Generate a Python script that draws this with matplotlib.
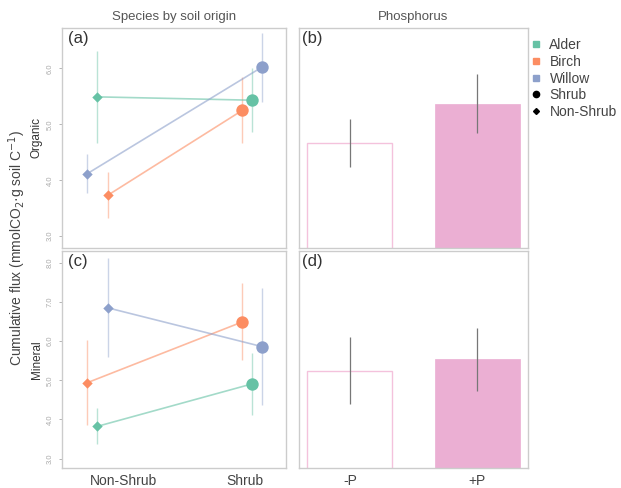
import matplotlib
matplotlib.use("Agg")
import matplotlib.pyplot as plt
from matplotlib.lines import Line2D

plt.rcParams["font.family"] = ["Liberation Sans", "DejaVu Sans"]

# species x soil origin (panels a, c)
species = ["Alder", "Birch", "Willow"]
origins = ["Non-Shrub", "Shrub"]
colors = {"Alder": "#66C2A5", "Birch": "#FC8D62", "Willow": "#8DA0CB"}

# organic layer: mean, lower, upper for [Non-Shrub, Shrub]
org_mean = {"Alder": [5.49, 5.43], "Birch": [3.73, 5.25], "Willow": [4.12, 6.02]}
org_lo = {"Alder": [4.66, 4.87], "Birch": [3.32, 4.67], "Willow": [3.77, 5.39]}
org_hi = {"Alder": [6.31, 6.00], "Birch": [4.15, 5.84], "Willow": [4.47, 6.63]}
org_jit = {"Alder": [-0.10, 0.06], "Birch": [-0.02, -0.015], "Willow": [-0.17, 0.13]}

# mineral layer
min_mean = {"Alder": [3.82, 4.91], "Birch": [4.94, 6.49], "Willow": [6.85, 5.86]}
min_lo = {"Alder": [3.37, 4.12], "Birch": [3.86, 5.51], "Willow": [5.60, 4.37]}
min_hi = {"Alder": [4.28, 5.69], "Birch": [6.04, 7.49], "Willow": [8.11, 7.36]}
min_jit = {"Alder": [-0.10, 0.06], "Birch": [-0.17, -0.015], "Willow": [-0.02, 0.13]}

# phosphorus (panels b, d)
p_levels = ["-P", "+P"]
p_org = [4.66, 5.37]
p_org_lo = [4.23, 4.85]
p_org_hi = [5.09, 5.90]
p_min = [5.24, 5.54]
p_min_lo = [4.40, 4.73]
p_min_hi = [6.10, 6.33]

W, H = 621, 488
fig = plt.figure(figsize=(W / 100, H / 100), dpi=100)

def ax_at(l, t, r, b):
    return fig.add_axes([l / W, 1 - b / H, (r - l) / W, (b - t) / H])

ax_a = ax_at(62, 28, 286, 248)
ax_c = ax_at(62, 251, 286, 468)
ax_b = ax_at(299, 28, 528, 248)
ax_d = ax_at(299, 251, 528, 468)
label_letter = {ax_a: "(a)", ax_b: "(b)", ax_c: "(c)", ax_d: "(d)"}

for ax in [ax_a, ax_b, ax_c, ax_d]:
    for s in ax.spines.values():
        s.set_color("#cccccc")
        s.set_linewidth(1.0)
    ax.tick_params(colors="#aaaaaa", length=2.5, width=0.6)

def species_panel(ax, mean, lo, hi, jit, ylim, ticks, label):
    for sp in species:
        xs = [i + 1 + jit[sp][i] for i in range(2)]
        c = colors[sp]
        ax.plot(xs, mean[sp], color=c, lw=1.2, alpha=0.6, zorder=2)
        ax.vlines(xs, lo[sp], hi[sp], color=c, lw=1.0, alpha=0.45, zorder=1)
        ax.scatter(xs[0], mean[sp][0], marker="D", s=28, color=c, zorder=3, lw=0)
        ax.scatter(xs[1], mean[sp][1], marker="o", s=80, color=c, zorder=3, lw=0)
    ax.set_xlim(0.64, 2.31)
    ax.set_ylim(*ylim)
    ax.set_yticks(ticks)
    ax.set_yticklabels([f"{t:.1f}" for t in ticks], rotation=90, va="center",
                       fontsize=5.5, color="#aaaaaa")
    ax.set_ylabel(label, fontsize=8.5, color="#333333", labelpad=3)
    ax.text(0.025, 0.985, label_letter[ax], transform=ax.transAxes, ha="left",
            va="top", fontsize=12, color="#333333")

def p_panel(ax, vals, lo, hi, ylim):
    ax.bar([0], [vals[0]], width=0.667, color="white", edgecolor="#F4C2DC",
           lw=1.0, zorder=1)
    ax.bar([1], [vals[1]], width=0.667, color="#EBAFD3", edgecolor="#EBAFD3",
           lw=0.5, zorder=1)
    ax.vlines([0, 1], lo, hi, color="#777777", lw=0.9, zorder=2)
    ax.set_xlim(-0.4, 1.4)
    ax.set_ylim(*ylim)
    ax.set_yticks([])
    ax.text(0.015, 0.985, label_letter[ax], transform=ax.transAxes, ha="left",
            va="top", fontsize=12, color="#333333")

species_panel(ax_a, org_mean, org_lo, org_hi, org_jit, (2.79, 6.72),
              [3.0, 4.0, 5.0, 6.0], "Organic")
species_panel(ax_c, min_mean, min_lo, min_hi, min_jit, (2.76, 8.30),
              [3.0, 4.0, 5.0, 6.0, 7.0, 8.0], "Mineral")
p_panel(ax_b, p_org, p_org_lo, p_org_hi, (2.79, 6.72))
p_panel(ax_d, p_min, p_min_lo, p_min_hi, (2.76, 8.30))

ax_a.set_xticks([])
ax_b.set_xticks([])
ax_c.set_xticks([1.1, 2.0])
ax_c.set_xticklabels(origins, fontsize=10, color="#444444")
ax_d.set_xticks([0, 1])
ax_d.set_xticklabels(p_levels, fontsize=10, color="#444444")
for ax in [ax_c, ax_d]:
    ax.tick_params(axis="x", length=0, pad=4)

ax_a.set_title("Species by soil origin", fontsize=9.5, color="#555555", pad=6)
ax_b.set_title("Phosphorus", fontsize=9.5, color="#555555", pad=6)

fig.text(17 / W, 1 - 248 / H, "Cumulative flux (mmolCO$_2$·g soil C$^{-1}$)",
         rotation=90, ha="center", va="center", fontsize=10, color="#444444")

handles = [Line2D([], [], marker="s", ls="", color=colors[sp], markersize=5)
           for sp in species]
handles.append(Line2D([], [], marker="o", ls="", color="black", markersize=4.5))
handles.append(Line2D([], [], marker="D", ls="", color="black", markersize=3))
fig.legend(handles, species + ["Shrub", "Non-Shrub"], loc="upper left",
           bbox_to_anchor=(530 / W, 1 - 38 / H), frameon=False, fontsize=10,
           handletextpad=0.6, labelspacing=0.2, handlelength=0.8,
           borderpad=0, borderaxespad=0, labelcolor="#444444")

fig.savefig("out.png", dpi=100)
